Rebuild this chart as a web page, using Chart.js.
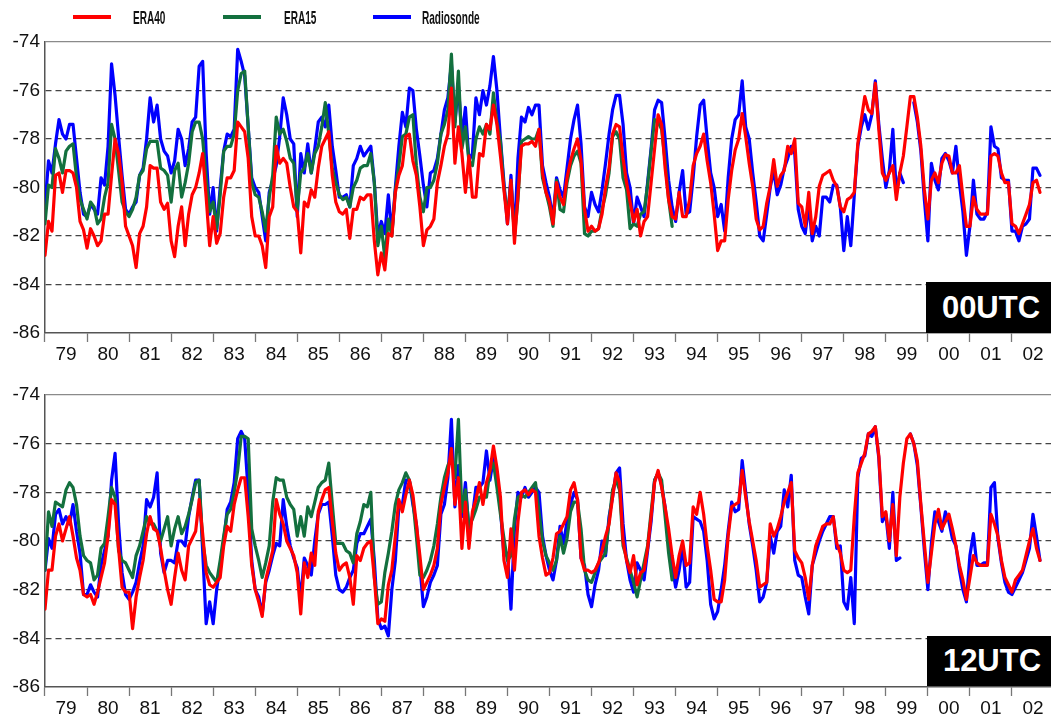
<!DOCTYPE html>
<html>
<head>
<meta charset="utf-8">
<script src="https://cdn.jsdelivr.net/npm/chart.js@4.4.1/dist/chart.umd.min.js"></script>
<style>
  html, body { margin: 0; padding: 0; background: #fff; width: 1051px; height: 718px; overflow: hidden; }
  .panel { position: absolute; left: 0; }
  #p00 { top: 0; }
  #p12 { top: 365px; }
  .sw { position: absolute; top: 15px; height: 4px; width: 38px; }
  .lt { position: absolute; top: 7px; font: bold 19px "Liberation Sans", Arial, sans-serif; color: #111;
        transform-origin: 0 0; transform: scaleX(0.53); white-space: nowrap; }
  .tag { position: absolute; background: #000; color: #fff; font: bold 31px "Liberation Sans", Arial, sans-serif;
         text-align: center; }
</style>
</head>
<body>
<div class="panel" id="p00"><canvas id="c00" width="1060" height="365"></canvas></div>
<div class="panel" id="p12"><canvas id="c12" width="1060" height="353"></canvas></div>

<div class="sw" style="left:73px;background:#ff0000"></div><div class="lt" style="left:133px">ERA40</div>
<div class="sw" style="left:223px;background:#13703e"></div><div class="lt" style="left:284px">ERA15</div>
<div class="sw" style="left:373px;background:#0000ff"></div><div class="lt" style="left:422px">Radiosonde</div>

<div class="tag" style="left:926px;top:282px;width:130px;height:51px;line-height:51px;">00UTC</div>
<div class="tag" style="left:927px;top:636px;width:130px;height:50px;line-height:50px;">12UTC</div>

<script>
// Monthly mean temperatures (deg C), one value per month starting January 1979.
const yearLabels = ['79','80','81','82','83','84','85','86','87','88','89','90',
                    '91','92','93','94','95','96','97','98','99','00','01','02'];

// ---- 00 UTC ----
const era40_00 = [
  -82.8,-81.4,-81.8,-79.5,-79.4,-80.2,-79.3,-79.3,-79.4,-80.0,-81.4,-81.75,
  -82.5,-81.7,-82.0,-82.4,-82.2,-81.1,-81.1,-79.5,-78.0,-78.6,-79.8,-81.6,
  -82.0,-82.4,-83.3,-81.9,-81.6,-80.8,-79.1,-79.2,-79.2,-80.6,-80.9,-80.65,
  -82.2,-82.85,-81.6,-80.8,-82.4,-81.1,-80.3,-80.0,-79.4,-78.6,-80.4,-82.4,
  -81.2,-82.3,-81.9,-80.4,-79.6,-79.6,-79.3,-77.3,-77.5,-77.7,-78.8,-81.2,
  -82.0,-82.0,-82.4,-83.3,-81.2,-80.8,-78.3,-79.0,-78.8,-79.0,-80.0,-80.8,
  -81.0,-82.7,-80.6,-80.8,-80.1,-80.4,-79.2,-78.3,-78.0,-77.7,-79.5,-80.6,
  -81.0,-81.1,-80.9,-82.1,-80.9,-80.9,-80.4,-80.5,-80.3,-80.3,-82.2,-83.6,
  -82.7,-83.4,-81.9,-82.0,-80.2,-79.5,-79.1,-77.9,-77.8,-78.9,-79.5,-80.8,
  -82.4,-81.75,-81.6,-81.3,-79.8,-79.1,-78.3,-77.8,-75.9,-79.0,-77.5,-78.6,
  -80.2,-78.7,-80.4,-80.4,-78.6,-78.7,-77.4,-77.6,-76.6,-77.4,-78.7,-80.1,
  -81.5,-79.7,-82.3,-80.3,-78.3,-78.2,-78.2,-78.1,-78.3,-77.6,-79.4,-80.2,
  -80.6,-81.5,-79.8,-80.4,-80.7,-79.6,-78.9,-78.4,-78.0,-78.9,-80.9,-81.8,
  -81.6,-81.8,-81.7,-81.1,-80.0,-79.2,-77.8,-77.4,-77.5,-78.8,-79.8,-80.6,
  -81.4,-80.9,-82.0,-81.4,-81.2,-79.8,-78.4,-77.0,-77.4,-79.2,-80.5,-81.2,
  -81.3,-80.2,-81.2,-81.2,-80.5,-79.1,-78.6,-78.3,-77.8,-78.9,-79.8,-81.1,
  -82.6,-82.2,-82.2,-80.5,-79.3,-78.45,-78.0,-76.95,-77.9,-79.0,-79.95,-81.3,
  -81.75,-81.6,-80.65,-79.95,-78.85,-79.95,-79.5,-79.3,-78.3,-78.6,-78.0,-80.65,
  -80.8,-81.6,-80.2,-81.9,-81.2,-79.95,-79.5,-79.4,-79.3,-79.7,-79.95,-80.8,
  -81.0,-80.5,-80.4,-80.2,-78.2,-77.2,-76.25,-76.8,-76.95,-75.7,-77.6,-79.4,
  -79.7,-79.4,-79.1,-80.5,-79.4,-78.7,-77.5,-76.25,-76.25,-77.1,-78.3,-80.1,
  -81.3,-79.7,-79.4,-79.8,-79.0,-78.65,-78.7,-79.4,-79.4,-79.1,-80.4,-81.6,
  -81.6,-80.4,-80.9,-81.1,-81.1,-81.1,-78.7,-78.6,-78.7,-79.4,-79.8,-79.8,
  -81.5,-81.6,-81.9,-81.5,-81.1,-80.7,-79.8,-79.7,-80.2
];
const era15_00 = [
  -81.5,-79.9,-80.0,-78.4,-78.8,-79.4,-78.5,-78.3,-78.2,-79.6,-80.5,-80.9,
  -81.3,-80.6,-80.8,-81.5,-81.3,-80.4,-79.8,-77.4,-78.0,-79.3,-80.6,-81.0,
  -81.2,-80.9,-80.4,-79.5,-79.3,-78.4,-78.1,-78.1,-78.1,-79.2,-79.3,-79.5,
  -80.6,-79.3,-79.0,-80.4,-79.8,-79.0,-77.7,-77.3,-77.3,-78.0,-79.6,-81.0,
  -80.6,-81.7,-80.3,-78.5,-78.3,-78.3,-77.8,-76.0,-75.3,-75.2,-77.5,-79.8,
  -80.3,-80.4,-81.0,-81.8,-80.4,-79.5,-77.1,-77.8,-77.6,-78.1,-78.8,-79.0,
  -80.9,-79.4,-79.2,-78.6,-79.4,-78.6,-78.3,-77.5,-76.5,-77.8,-79.2,-79.8,
  -80.3,-80.5,-80.4,-80.8,-80.0,-79.7,-79.2,-79.1,-79.1,-78.6,-79.8,-82.4,
  -81.6,-82.9,-81.3,-82.0,-80.1,-79.1,-77.9,-77.8,-77.1,-77.0,-79.1,-80.4,
  -81.0,-80.0,-80.0,-79.7,-79.0,-77.8,-77.4,-76.8,-74.5,-77.5,-75.2,-78.4,
  -77.5,-78.9,-79.1,-78.0,-77.5,-77.8,-77.4,-77.8,-76.1,-77.3,-78.1,-80.0,
  -81.2,-79.8,-82.0,-80.5,-78.1,-78.0,-77.9,-78.0,-78.0,-77.6,-79.6,-80.2,
  -80.8,-81.6,-79.7,-80.9,-81.0,-79.8,-79.1,-78.7,-78.5,-79.0,-81.9,-82.0,
  -81.8,-81.8,-81.7,-80.9,-80.3,-79.4,-77.9,-77.7,-78.0,-79.6,-80.1,-81.7,
  -81.5,-81.6,-81.1,-81.0,-79.9,-78.5,-77.2,-77.3,-77.6,-78.9,-80.5,-81.6
];
const sonde_00 = [
  -80.8,-78.9,-79.4,-78.2,-77.2,-77.8,-78.0,-77.4,-77.4,-78.8,-80.2,-81.1,
  -81.2,-80.7,-80.9,-81.1,-79.6,-79.9,-78.3,-74.9,-76.2,-77.9,-79.5,-80.9,
  -81.1,-80.8,-80.6,-79.5,-79.2,-78.0,-76.3,-77.3,-76.6,-78.0,-78.5,-78.7,
  -79.4,-78.9,-77.6,-78.0,-79.1,-78.4,-77.3,-77.1,-75.0,-74.8,-78.6,-81.1,
  -80.0,-81.8,-80.0,-78.5,-77.8,-77.9,-77.6,-74.3,-74.8,-75.4,-77.5,-79.6,
  -80.0,-80.2,-81.2,-82.2,-80.2,-79.7,-79.1,-77.9,-76.3,-77.0,-78.0,-78.2,
  -81.2,-78.6,-79.4,-78.2,-79.4,-78.4,-77.3,-77.1,-77.5,-76.6,-78.3,-79.3,
  -80.4,-80.4,-80.3,-80.8,-79.1,-78.8,-78.3,-78.7,-78.5,-78.3,-79.8,-82.0,
  -81.4,-81.9,-80.3,-81.9,-80.0,-78.3,-76.9,-77.5,-75.9,-76.0,-77.6,-78.7,
  -79.9,-80.8,-79.4,-79.3,-78.8,-77.8,-76.8,-76.3,-74.9,-77.3,-75.8,-77.9,
  -76.7,-78.9,-78.6,-76.3,-77.0,-76.0,-76.6,-75.8,-74.6,-76.0,-78.0,-79.8,
  -81.5,-79.5,-82.0,-78.8,-77.1,-77.3,-76.7,-77.0,-76.6,-76.6,-79.1,-79.8,
  -80.4,-81.3,-79.6,-80.1,-80.4,-79.2,-78.0,-77.2,-76.6,-78.2,-80.8,-81.2,
  -80.2,-80.7,-81.0,-80.1,-79.0,-77.8,-76.8,-76.2,-76.2,-77.4,-79.4,-80.0,
  -81.5,-80.4,-80.8,-81.2,-79.8,-78.4,-76.8,-76.4,-76.5,-78.0,-79.7,-80.8,
  -81.4,-80.2,-79.3,-81.1,-81.0,-79.6,-77.9,-76.6,-76.4,-78.0,-79.4,-80.0,
  -81.2,-80.7,-81.8,-79.6,-78.0,-77.2,-77.0,-75.6,-77.5,-78.0,-79.4,-80.6,
  -82.0,-82.2,-81.1,-80.0,-79.3,-80.3,-79.9,-79.2,-78.8,-78.3,-78.6,-80.9,
  -81.6,-81.9,-80.7,-82.2,-81.6,-82.0,-80.4,-80.4,-80.6,-79.9,-79.9,-80.8,
  -82.6,-81.2,-82.4,-80.3,-78.3,-77.5,-77.0,-77.6,-77.0,-75.6,-77.4,-78.8,
  -80.0,-79.3,-77.6,-80.2,-79.4,-79.8,null,null,-76.5,-77.3,-78.5,-80.5,
  -82.2,-79.0,-79.7,-80.1,-78.8,-78.6,-78.9,-79.4,-78.3,-79.8,-81.0,-82.8,
  -81.6,-79.7,-81.1,-81.3,-81.3,-81.0,-77.5,-78.3,-78.4,-79.6,-79.7,-79.7,
  -81.8,-81.8,-82.2,-81.6,-81.5,-81.3,-79.2,-79.2,-79.5
];

// ---- 12 UTC ----
const era40_12 = [
  -82.8,-81.2,-81.2,-79.8,-79.3,-80.0,-79.5,-79.0,-79.8,-80.7,-81.2,-82.2,
  -82.3,-82.2,-82.6,-82.1,-81.5,-80.9,-79.8,-78.3,-78.5,-80.3,-81.9,-82.1,
  -82.1,-83.6,-82.3,-81.5,-80.8,-79.7,-79.0,-79.5,-79.6,-80.3,-81.2,-82.0,
  -82.6,-81.5,-80.5,-81.2,-81.6,-80.2,-79.9,-79.6,-78.3,-79.7,-81.3,-81.8,
  -81.9,-81.7,-81.5,-80.2,-79.4,-79.6,-78.5,-77.9,-77.4,-77.4,-79.0,-81.0,
  -82.0,-82.5,-83.1,-81.6,-81.0,-80.4,-78.3,-78.9,-79.3,-80.0,-80.3,-80.6,
  -81.3,-83.0,-80.9,-81.5,-80.5,-81.0,-78.8,-78.3,-77.9,-77.8,-79.2,-80.5,
  -81.2,-81.0,-80.9,-81.5,-82.6,-80.6,-80.8,-80.3,-80.1,-80.0,-81.5,-83.4,
  -83.2,-83.3,-81.8,-81.2,-79.8,-78.3,-78.8,-78.1,-77.5,-78.1,-79.3,-80.6,
  -82.0,-81.7,-81.4,-81.0,-80.3,-78.5,-77.8,-77.2,-76.2,-78.5,-77.4,-80.3,
  -78.4,-80.3,-78.8,-78.3,-77.6,-78.5,-77.6,-77.1,-76.1,-77.0,-78.2,-80.8,
  -81.5,-79.5,-81.2,-79.2,-78.0,-77.9,-78.1,-77.9,-78.0,-79.8,-80.7,-81.4,
  -81.3,-80.7,-79.7,-79.6,-79.3,-79.0,-77.9,-77.6,-78.3,-80.7,-81.2,-81.2,
  -81.3,-81.2,-80.9,-80.4,-79.8,-79.3,-78.2,-77.2,-77.6,-80.0,-80.8,-81.3,
  -80.6,-81.8,-81.3,-81.2,-80.3,-79.0,-77.6,-77.1,-77.8,-78.6,-79.5,-80.6,
  -81.5,-80.6,-80.0,-81.0,-80.9,-78.6,-78.9,-78.0,-78.9,-80.2,-81.2,-82.4,
  -82.5,-82.5,-81.6,-79.8,-78.6,-78.5,-78.4,-77.1,-78.2,-79.2,-80.0,-80.8,
  -81.9,-81.8,-81.7,-79.3,-79.8,-79.5,-79.0,-78.4,-78.0,-77.6,-80.4,-80.7,
  -80.9,-81.5,-82.4,-81.0,-80.2,-79.8,-79.4,-79.3,-79.3,-79.0,-80.1,-80.5,
  -81.2,-81.3,-81.2,-79.0,-77.2,-76.8,-76.4,-75.6,-75.5,-75.3,-76.5,-79.0,
  -78.8,-80.0,-78.5,-80.6,-78.2,-76.8,-75.8,-75.6,-76.0,-76.7,-78.5,-80.1,
  -81.7,-80.5,-79.3,-78.7,-79.5,-79.2,-78.9,-79.5,-80.2,-81.0,-81.6,-82.4,
  -81.5,-80.6,-80.9,-81.0,-81.0,-81.0,-78.9,-79.3,-79.8,-80.8,-81.5,-81.8,
  -82.1,-81.6,-81.4,-81.2,-80.6,-80.0,-79.5,-80.3,-80.8
];
const era15_12 = [
  -81.2,-78.8,-79.4,-78.4,-78.5,-78.6,-77.9,-77.6,-77.8,-78.5,-79.8,-80.6,
  -80.8,-80.9,-81.6,-81.4,-80.3,-80.1,-79.0,-77.8,-78.2,-80.4,-80.8,-80.9,
  -81.2,-81.5,-80.6,-80.2,-79.6,-79.0,-79.3,-79.3,-79.6,-80.0,-79.5,-79.0,
  -80.2,-79.5,-79.0,-79.7,-79.4,-78.9,-78.3,-77.6,-77.5,-80.0,-81.0,-81.3,
  -81.5,-81.7,-80.8,-79.8,-78.9,-78.7,-78.0,-77.1,-75.7,-75.7,-75.8,-79.5,
  -80.2,-80.8,-81.5,-80.9,-80.2,-78.4,-77.4,-77.5,-77.5,-78.2,-78.5,-78.7,
  -79.8,-79.0,-79.8,-78.6,-79.0,-78.4,-77.8,-77.6,-77.5,-76.8,-78.5,-80.1,
  -80.1,-80.1,-80.4,-80.5,-80.9,-79.7,-79.2,-78.5,-78.6,-78.0,-81.5,-82.6,
  -82.5,-81.3,-80.5,-79.6,-78.5,-77.9,-77.6,-77.2,-77.5,-78.3,-79.8,-81.4,
  -81.5,-81.2,-80.8,-80.2,-79.3,-78.2,-77.4,-76.9,-76.6,-77.4,-75.0,-78.8,
  -77.9,-79.4,-79.1,-78.7,-78.2,-78.2,-78.2,-77.1,-76.8,-77.8,-78.9,-79.9,
  -80.8,-80.6,-79.1,-78.2,-78.1,-78.2,-78.0,-77.8,-77.6,-78.8,-80.0,-80.6,
  -80.9,-81.2,-80.8,-79.8,-80.5,-79.9,-78.8,-78.4,-78.4,-79.5,-81.2,-81.6,
  -81.7,-81.3,-80.9,-80.7,-80.5,-79.2,-77.9,-77.5,-77.9,-80.2,-80.7,-81.2,
  -81.7,-82.3,-81.6,-80.9,-80.2,-78.8,-77.5,-77.2,-77.5,-79.0,-80.5,-81.6
];
const sonde_12 = [
  -81.2,-79.9,-80.3,-78.9,-78.7,-79.3,-79.0,-79.3,-78.5,-79.6,-80.5,-82.2,
  -82.2,-81.8,-82.1,-82.3,-81.0,-80.4,-79.8,-77.5,-76.4,-79.3,-81.3,-82.2,
  -82.4,-82.1,-81.7,-80.9,-80.2,-78.3,-78.6,-78.2,-77.2,-80.5,-81.3,-80.8,
  -80.8,-80.9,-80.0,-80.0,-80.2,-79.0,-78.2,-77.5,-77.5,-80.4,-83.4,-82.5,
  -83.4,-82.0,-81.0,-80.0,-78.7,-78.4,-77.6,-75.8,-75.5,-75.8,-78.0,-80.8,
  -82.0,-82.3,-83.0,-81.7,-81.2,-80.6,-80.1,-80.2,-78.3,-79.4,-80.2,-80.7,
  -81.1,-82.4,-80.7,-81.0,-81.4,-80.0,-78.9,-78.5,-78.5,-78.4,-79.8,-81.4,
  -82.0,-82.1,-81.9,-81.5,-81.2,-80.1,-79.7,-79.7,-79.4,-79.1,-80.8,-83.2,
  -83.6,-83.5,-83.9,-82.0,-80.8,-78.6,-78.5,-77.5,-77.5,-78.5,-79.3,-81.0,
  -82.7,-82.3,-81.7,-81.4,-81.0,-78.9,-78.5,-77.4,-75.0,-78.6,-76.9,-79.0,
  -77.6,-79.6,-79.0,-77.8,-77.8,-77.6,-76.3,-77.5,-76.6,-77.4,-78.7,-80.6,
  -80.5,-82.8,-79.5,-78.0,-78.2,-77.8,-78.2,-78.0,-77.8,-78.0,-79.8,-80.6,
  -81.2,-81.6,-80.8,-79.4,-80.1,-79.2,-78.5,-78.0,-78.3,-80.7,-81.0,-82.2,
  -82.7,-81.8,-81.2,-80.0,-80.6,-79.0,-78.2,-77.2,-77.0,-79.3,-80.8,-81.6,
  -82.1,-80.9,-81.2,-81.6,-80.4,-79.2,-77.5,-77.2,-77.7,-78.6,-80.0,-81.0,
  -81.9,-81.2,-80.2,-81.9,-81.7,-79.0,-79.1,-79.2,-79.6,-80.8,-82.6,-83.2,
  -82.9,-82.0,-81.0,-79.6,-78.4,-78.8,-78.7,-76.7,-78.0,-79.3,-80.2,-81.2,
  -82.5,-82.3,-81.7,-79.8,-80.5,-79.6,-79.4,-77.9,-78.6,-77.3,-80.8,-81.4,
  -81.5,-82.3,-83.0,-81.0,-80.5,-80.0,-79.6,-79.3,-79.0,-79.0,-80.3,-80.2,
  -82.5,-82.8,-81.5,-83.4,-77.4,-76.6,-76.5,-75.6,-75.7,-75.3,-76.6,-79.2,
  -78.9,-80.3,-78.0,-80.8,-80.7,null,null,-75.6,-76.0,-76.9,-78.6,-80.4,
  -82.0,-80.1,-78.8,-79.2,-79.6,-78.8,-79.2,-79.9,-80.2,-81.2,-82.0,-82.5,
  -80.6,-79.7,-81.0,-81.0,-80.9,-80.9,-77.8,-77.6,-79.9,-80.9,-81.7,-82.1,
  -82.2,-81.9,-81.6,-81.3,-80.8,-80.3,-78.9,-79.8,-80.8
];

const yTicks = { min: -86, max: -74, step: 2 };
const FONT = '"Liberation Sans", Arial, Helvetica, sans-serif';

function series(values) {
  return values.map((v, i) => ({ x: i, y: v }));
}

function makeChart(canvasId, padTop, axisHeight, era40, era15, sonde) {
  const line = (label, values, color) => ({
    label, data: series(values), borderColor: color, backgroundColor: color,
    borderWidth: 3.2, pointRadius: 0, tension: 0, spanGaps: false, fill: false,
    borderJoinStyle: 'round', borderCapStyle: 'round'
  });
  return new Chart(document.getElementById(canvasId), {
    type: 'line',
    data: {
      datasets: [
        line('ERA40', era40, '#ff0000'),
        line('ERA15', era15, '#13703e'),
        line('Radiosonde', sonde, '#0000ff')
      ]
    },
    options: {
      responsive: false,
      animation: false,
      devicePixelRatio: 1,
      layout: { padding: { top: padTop, right: 6, left: 0, bottom: 0 } },
      plugins: { legend: { display: false }, tooltip: { enabled: false } },
      scales: {
        x: {
          type: 'linear', min: 0, max: yearLabels.length * 12,
          afterBuildTicks: s => { s.ticks = yearLabels.map((_, i) => ({ value: 6 + 12 * i })); },
          afterFit: s => { s.height = axisHeight; },
          ticks: {
            autoSkip: false, maxRotation: 0, minRotation: 0, padding: 1, color: '#111',
            font: { family: FONT, size: 19 },
            callback: (v, i) => yearLabels[i]
          },
          grid: { offset: true, drawOnChartArea: false, drawTicks: true, tickLength: 9,
                  tickColor: '#777', tickWidth: 1.3 },
          border: { color: '#555', width: 1.5 }
        },
        y: {
          min: yTicks.min, max: yTicks.max,
          afterFit: s => { s.width = 45; },
          ticks: { stepSize: yTicks.step, padding: 5, color: '#111', font: { family: FONT, size: 19 } },
          grid: {
            drawTicks: false, lineWidth: 1.3,
            color: c => c.tick.value === yTicks.min ? 'rgba(0,0,0,0)'
                      : (c.tick.value === yTicks.max ? '#8a8a8a' : '#444')
          },
          border: {
            color: '#555', width: 1.5,
            dash: c => (c.tick && c.tick.value === yTicks.max) ? [] : [6, 4]
          }
        }
      }
    }
  });
}

makeChart('c00', 42, 32, era40_00, era15_00, sonde_00);
makeChart('c12', 30, 31, era40_12, era15_12, sonde_12);
</script>
</body>
</html>
